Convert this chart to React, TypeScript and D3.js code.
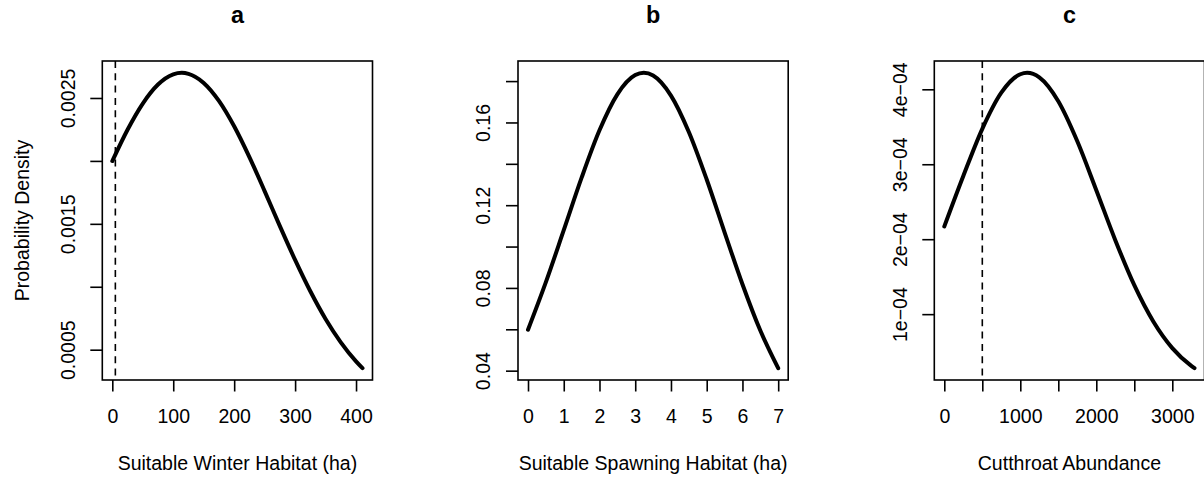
import { useEffect, useRef } from 'react';
import * as d3 from 'd3';

// panel a: suitable winter habitat (ha)
const winterX = [0, 25, 50, 75, 100, 114, 125, 150, 175, 200, 225, 250, 275, 300, 325, 350, 375, 400, 410.6];
const winterY = [
  0.001999, 0.002248, 0.002456, 0.002607, 0.002688, 0.0027, 0.002692, 0.00262, 0.002477, 0.002275,
  0.00203, 0.00176, 0.001482, 0.001213, 0.000964, 0.000744, 0.000558, 0.000407, 0.000353,
];
const winterXTicks = [0, 100, 200, 300, 400];
const winterXLabels = ['0', '100', '200', '300', '400'];
const winterYTicks = [0.0005, 0.001, 0.0015, 0.002, 0.0025];
const winterYLabels = ['0.0005', '', '0.0015', '', '0.0025'];

// panel b: suitable spawning habitat (ha)
const spawnX = [0, 0.5, 1, 1.5, 2, 2.5, 3, 3.24, 3.5, 4, 4.5, 5, 5.5, 6, 6.5, 7];
const spawnY = [
  0.0598, 0.0828, 0.1079, 0.1333, 0.1562, 0.1736, 0.1829, 0.184, 0.1827, 0.173, 0.1554, 0.1324,
  0.1069, 0.0818, 0.0594, 0.0412,
];
const spawnXTicks = [0, 1, 2, 3, 4, 5, 6, 7];
const spawnXLabels = ['0', '1', '2', '3', '4', '5', '6', '7'];
const spawnYTicks = [0.04, 0.06, 0.08, 0.1, 0.12, 0.14, 0.16, 0.18];
const spawnYLabels = ['0.04', '', '0.08', '', '0.12', '', '0.16', ''];

// panel c: cutthroat abundance
const cutX = [0, 250, 500, 750, 1000, 1090, 1250, 1500, 1750, 2000, 2250, 2500, 2750, 3000, 3250, 3292];
const cutY = [
  2.17e-4, 2.843e-4, 3.473e-4, 3.955e-4, 4.201e-4, 4.22e-4, 4.16e-4, 3.841e-4, 3.307e-4, 2.654e-4,
  1.987e-4, 1.386e-4, 0.902e-4, 0.547e-4, 0.31e-4, 0.279e-4,
];
const cutXTicks = [0, 500, 1000, 1500, 2000, 2500, 3000];
const cutXLabels = ['0', '', '1000', '', '2000', '', '3000'];
const cutYTicks = [1e-4, 2e-4, 3e-4, 4e-4];
const cutYLabels = ['1e\u221204', '2e\u221204', '3e\u221204', '4e\u221204'];

const titles = ['a', 'b', 'c'];
const xTitles = ['Suitable Winter Habitat (ha)', 'Suitable Spawning Habitat (ha)', 'Cutthroat Abundance'];
const yTitle = 'Probability Density';
const cutoffs = [5, null, 500];

const FONT = '"Liberation Sans", Arial, Helvetica, sans-serif';

export default function App() {
  const svgRef = useRef<SVGSVGElement>(null);

  useEffect(() => {
    if (!svgRef.current) return;
    const width = 1204;
    const height = 479;
    const top = 61;
    const bottom = 380;
    const panelW = 270.2;
    const lefts = [102.3, 518, 934.3];

    d3.select(svgRef.current).selectAll('*').remove();
    const svg = d3.select(svgRef.current).attr('width', width).attr('height', height);
    svg.append('rect').attr('width', width).attr('height', height).attr('fill', '#fff');

    const panels = [
      { xs: winterX, ys: winterY, xt: winterXTicks, xl: winterXLabels, yt: winterYTicks, yl: winterYLabels },
      { xs: spawnX, ys: spawnY, xt: spawnXTicks, xl: spawnXLabels, yt: spawnYTicks, yl: spawnYLabels },
      { xs: cutX, ys: cutY, xt: cutXTicks, xl: cutXLabels, yt: cutYTicks, yl: cutYLabels },
    ];

    // R style 4% padding on each side
    const pad = (ext: [number, number]) => {
      const r = ext[1] - ext[0];
      return [ext[0] - 0.04 * r, ext[1] + 0.04 * r];
    };

    panels.forEach((p, i) => {
      const left = lefts[i];
      const right = left + panelW;
      const g = svg.append('g');

      const x = d3
        .scaleLinear()
        .domain(pad(d3.extent(p.xs) as [number, number]))
        .range([left, right]);
      const y = d3
        .scaleLinear()
        .domain(pad(d3.extent(p.ys) as [number, number]))
        .range([bottom, top]);

      // x axis
      const xa = g
        .append('g')
        .attr('transform', `translate(0, ${bottom})`)
        .call(
          d3
            .axisBottom(x)
            .tickValues(p.xt)
            .tickSize(11.5)
            .tickPadding(17.6)
            .tickFormat((_, j) => p.xl[j])
        );
      xa.select('.domain').remove();
      xa.selectAll('line').attr('stroke', '#000').attr('stroke-width', 1.6);
      xa.selectAll('text')
        .attr('fill', '#000')
        .style('font-family', FONT)
        .style('font-size', '19.5px');

      // y axis
      const ya = g
        .append('g')
        .attr('transform', `translate(${left}, 0)`)
        .call(
          d3
            .axisLeft(y)
            .tickValues(p.yt)
            .tickSize(12)
            .tickFormat((_, j) => p.yl[j])
        );
      ya.select('.domain').remove();
      ya.selectAll('line').attr('stroke', '#000').attr('stroke-width', 1.6);
      ya.selectAll('text')
        .attr('x', 0)
        .attr('y', -27.8)
        .attr('dy', null)
        .attr('transform', 'rotate(-90)')
        .attr('text-anchor', 'middle')
        .attr('fill', '#000')
        .style('font-family', FONT)
        .style('font-size', '19.5px');

      // dashed reference line
      const c = cutoffs[i];
      if (c !== null) {
        g.append('line')
          .attr('x1', x(c))
          .attr('x2', x(c))
          .attr('y1', top)
          .attr('y2', bottom)
          .attr('stroke', '#000')
          .attr('stroke-width', 1.6)
          .attr('stroke-dasharray', '7,5.3');
      }

      // density curve
      const line = d3
        .line<number>()
        .x((_, j) => x(p.xs[j]))
        .y((d) => y(d))
        .curve(d3.curveMonotoneX);
      g.append('path')
        .attr('d', line(p.ys))
        .attr('fill', 'none')
        .attr('stroke', '#000')
        .attr('stroke-width', 4)
        .attr('stroke-linecap', 'round')
        .attr('stroke-linejoin', 'round');

      // plot box
      g.append('rect')
        .attr('x', left)
        .attr('y', top)
        .attr('width', panelW)
        .attr('height', bottom - top)
        .attr('fill', 'none')
        .attr('stroke', '#000')
        .attr('stroke-width', 1.6);

      // titles
      g.append('text')
        .attr('x', (left + right) / 2)
        .attr('y', 22.5)
        .attr('text-anchor', 'middle')
        .style('font-family', FONT)
        .style('font-size', '23.4px')
        .style('font-weight', 'bold')
        .text(titles[i]);

      g.append('text')
        .attr('x', (left + right) / 2)
        .attr('y', 469.5)
        .attr('text-anchor', 'middle')
        .style('font-family', FONT)
        .style('font-size', '19.5px')
        .text(xTitles[i]);

      if (i === 0) {
        g.append('text')
          .attr('transform', `translate(29.3, ${(top + bottom) / 2}) rotate(-90)`)
          .attr('text-anchor', 'middle')
          .style('font-family', FONT)
          .style('font-size', '19.5px')
          .text(yTitle);
      }
    });
  }, []);

  return (
    <div style={{ position: 'absolute', left: 0, top: 0 }}>
      <svg ref={svgRef} style={{ display: 'block' }} />
    </div>
  );
}
